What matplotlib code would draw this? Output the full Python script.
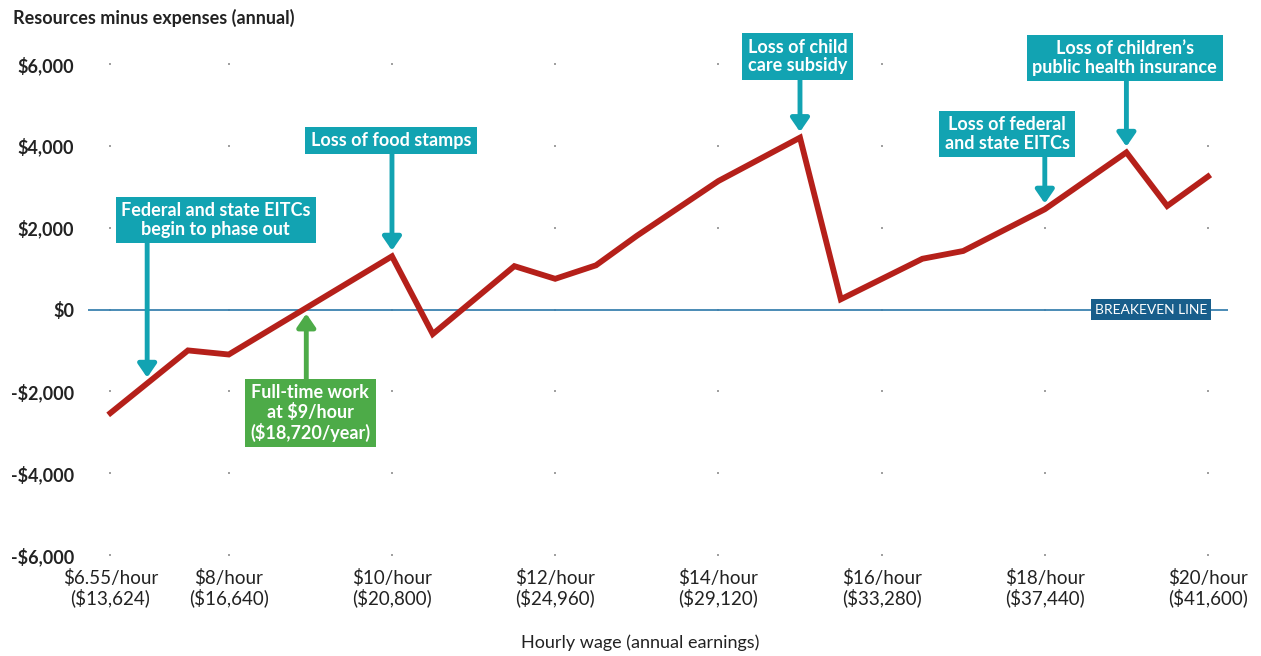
import numpy as np
import matplotlib
matplotlib.use('Agg')
import matplotlib.pyplot as plt

plt.rcParams['font.family'] = ['Lato', 'DejaVu Sans']

# hourly wage vs. resources minus expenses
wage = [6.55, 7.5, 8, 10, 10.5, 11.5, 12, 12.5, 13, 14, 15, 15.5, 16.5, 17, 18, 19, 19.5, 20]
net = [-2530, -1000, -1100, 1300, -600, 1060, 750, 1080, 1800, 3140, 4200, 250, 1240, 1430, 2450, 3840, 2530, 3250]

xtick_vals = [6.55, 8, 10, 12, 14, 16, 18, 20]
xtick_labels = ['$6.55/hour\n($13,624)', '$8/hour\n($16,640)', '$10/hour\n($20,800)',
                '$12/hour\n($24,960)', '$14/hour\n($29,120)', '$16/hour\n($33,280)',
                '$18/hour\n($37,440)', '$20/hour\n($41,600)']
ytick_vals = [-6000, -4000, -2000, 0, 2000, 4000, 6000]
ytick_labels = ['-$6,000', '-$4,000', '-$2,000', '$0', '$2,000', '$4,000', '$6,000']

# callouts: text, box centre (wage, $), arrow wage
callouts = [
    ('Federal and state EITCs\nbegin to phase out', (7.84, 2190), 7.0),
    ('Loss of food stamps', (9.99, 4130), 10),
    ('Loss of child\ncare subsidy', (14.97, 6185), 15),
    ('Loss of federal\nand state EITCs', (17.54, 4290), 18),
    ('Loss of children\u2019s\npublic health insurance', (18.98, 6150), 19),
]
fulltime = ('Full-time work\nat $9/hour\n($18,720/year)', (9.0, -2530), 8.95)

TEAL = '#12a3b2'
GREEN = '#4dab48'
RED = '#b5201a'
BLUE_LINE = '#3c82b0'
BLUE_BOX = '#185e8b'
ARROW = dict(arrowstyle='-|>,head_width=0.55,head_length=0.8', lw=3.5, shrinkA=0, shrinkB=0)

fig = plt.figure(figsize=(12.61, 6.56), dpi=100)
ax = fig.add_axes([88 / 1261, 101 / 656, (1228 - 88) / 1261, (555 - 64) / 656])
ax.set_xlim(6.275, 20.245)
ax.set_ylim(-6000, 6000)

# dotted grid at tick intersections
gx, gy = np.meshgrid(xtick_vals, ytick_vals)
ax.scatter(gx.ravel(), gy.ravel(), s=3, color='#a0a0a0', marker='s', linewidths=0, zorder=1, clip_on=False)

ax.axhline(0, color=BLUE_LINE, lw=1.3, zorder=2)
ax.text(19.3, 0, 'BREAKEVEN LINE', color='white', fontsize=10, ha='center', va='center',
        bbox=dict(boxstyle='square,pad=0.3', fc=BLUE_BOX, ec='none'), zorder=3)

ax.plot(wage, net, color=RED, lw=4.2, solid_joinstyle='miter', zorder=4)

def line_at(x):
    return np.interp(x, wage, net)

for text, (bx, by), ax_x in callouts:
    ax.text(bx, by, text, color='white', fontsize=13, fontweight='bold', ha='center', va='center',
            linespacing=1.1, bbox=dict(boxstyle='square,pad=0.3', fc=TEAL, ec='none'),
            zorder=6, clip_on=False)
    ax.annotate('', xy=(ax_x, line_at(ax_x) + 140), xytext=(ax_x, by),
                arrowprops=dict(color=TEAL, **ARROW), zorder=5, annotation_clip=False)

text, (bx, by), ax_x = fulltime
ax.text(bx, by, text, color='white', fontsize=13, fontweight='bold', ha='center', va='center',
        linespacing=1.1, bbox=dict(boxstyle='square,pad=0.3', fc=GREEN, ec='none'), zorder=6)
ax.annotate('', xy=(ax_x, line_at(ax_x) - 140), xytext=(ax_x, by),
            arrowprops=dict(color=GREEN, **ARROW), zorder=5)

ax.set_xticks(xtick_vals)
ax.set_xticklabels(xtick_labels, fontsize=13.5, color='#222222', linespacing=1.1)
ax.set_yticks(ytick_vals)
ax.set_yticklabels(ytick_labels, fontsize=13, color='#222222', fontweight='bold')
ax.tick_params(length=0, axis='x', pad=10)
ax.tick_params(length=0, axis='y', pad=10)
for s in ax.spines.values():
    s.set_visible(False)

fig.text(13 / 1261, 1 - 18 / 656, 'Resources minus expenses (annual)', fontsize=13,
         fontweight='bold', color='#222222', ha='left', va='center')
fig.text(640 / 1261, 1 - 643 / 656, 'Hourly wage (annual earnings)', fontsize=13,
         color='#222222', ha='center', va='center')

fig.savefig('out.png', dpi=100)
